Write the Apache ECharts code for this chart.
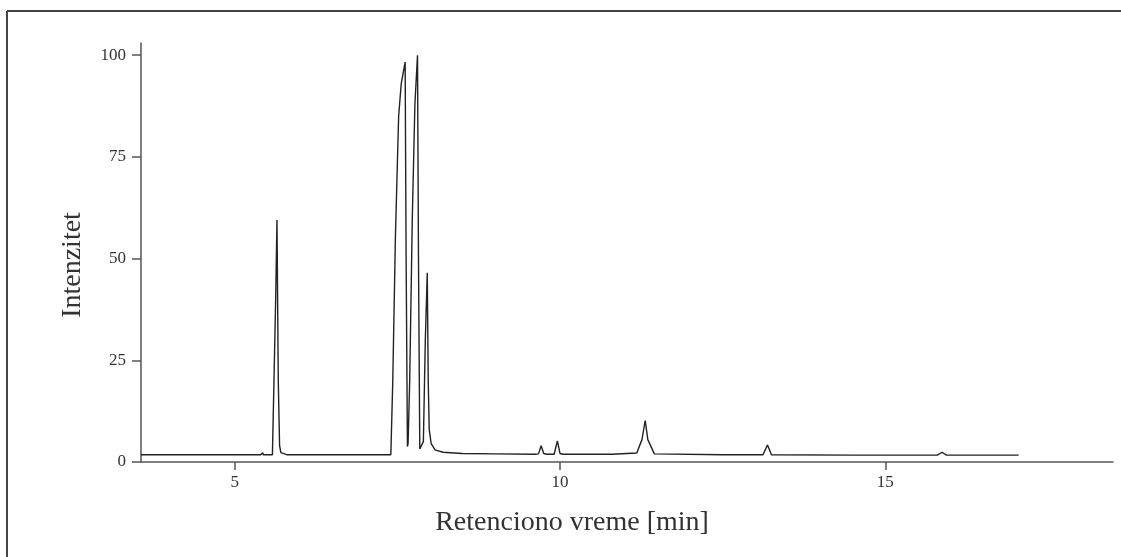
<!DOCTYPE html>
<html>
<head>
<meta charset="utf-8">
<script src="https://cdn.jsdelivr.net/npm/echarts@6/dist/echarts.min.js"></script>
<style>html,body{margin:0;padding:0;background:#fff;}#c{width:1121px;height:557px;}</style>
</head>
<body>
<div id="c"></div>
<script>
const xTicks = [5, 10, 15];
const yTicks = [0, 25, 50, 75, 100];
const xTitle = 'Retenciono vreme [min]';
const yTitle = 'Intenzitet';
const times = [3.56, 5.40, 5.43, 5.44, 5.46, 5.58, 5.60, 5.63, 5.65, 5.67, 5.69, 5.71, 5.74, 5.80, 6.5, 7.40, 7.41, 7.43, 7.47, 7.52, 7.56, 7.62, 7.635, 7.655, 7.665, 7.69, 7.73, 7.77, 7.81, 7.825, 7.845, 7.86, 7.90, 7.93, 7.96, 7.975, 7.99, 8.02, 8.08, 8.2, 8.5, 9.0, 9.62, 9.67, 9.71, 9.75, 9.80, 9.91, 9.96, 10.00, 10.05, 10.8, 11.18, 11.26, 11.31, 11.35, 11.45, 12.5, 13.12, 13.19, 13.25, 14.5, 15.80, 15.87, 15.94, 17.05];
const intensity = [1.8, 1.8, 2.3, 1.8, 1.8, 1.8, 2.2, 40, 59.5, 20, 4, 2.3, 2.0, 1.8, 1.8, 1.8, 2.0, 20, 55, 85, 93, 98.3, 50, 3.8, 4.5, 20, 60, 88, 100, 50, 3.2, 2.8, 5, 30, 46.5, 20, 8, 4.5, 3.0, 2.4, 2.1, 2.0, 1.9, 2.0, 4.0, 2.1, 1.9, 1.9, 5.2, 2.1, 1.9, 1.9, 2.2, 5.5, 10.2, 5.5, 2.0, 1.8, 1.8, 4.2, 1.8, 1.7, 1.7, 2.4, 1.7, 1.7];

const data = times.map((t, i) => [t, intensity[i]]);
const fontFam = '"Liberation Serif", "DejaVu Serif", serif';
const chart = echarts.init(document.getElementById('c'), null, {renderer: 'canvas'});
chart.setOption({
  animation: false,
  backgroundColor: '#fff',
  grid: {left: 141, right: 8, top: 43, bottom: 95, containLabel: false},
  xAxis: {
    type: 'value', min: 3.56, max: 18.5,
    axisLine: {show: true, lineStyle: {color: '#555', width: 1.5}},
    axisTick: {show: true, length: 8, customValues: xTicks, lineStyle: {color: '#555', width: 1.5}},
    axisLabel: {customValues: xTicks, fontFamily: fontFam, fontSize: 17, color: '#333', margin: 12},
    splitLine: {show: false}
  },
  yAxis: {
    type: 'value', min: 0, max: 103,
    axisLine: {show: true, lineStyle: {color: '#555', width: 1.5}},
    axisTick: {show: true, length: 9, customValues: yTicks, lineStyle: {color: '#555', width: 1.5}},
    axisLabel: {customValues: yTicks, fontFamily: fontFam, fontSize: 17, color: '#333', margin: 15},
    splitLine: {show: false}
  },
  series: [{
    type: 'line', data: data, showSymbol: false, smooth: false,
    lineStyle: {color: '#222', width: 1.4}
  }],
  graphic: [
    {type: 'line', shape: {x1: 7, y1: 11, x2: 1121, y2: 11}, style: {stroke: '#444', lineWidth: 2}},
    {type: 'line', shape: {x1: 7, y1: 11, x2: 7, y2: 557}, style: {stroke: '#444', lineWidth: 2}},
    {type: 'text', x: 572, y: 523, style: {text: xTitle, font: '28px "Liberation Serif", serif', fill: '#333', align: 'center', verticalAlign: 'middle'}},
    {type: 'text', x: 73, y: 265, rotation: Math.PI / 2, style: {text: yTitle, font: '28px "Liberation Serif", serif', fill: '#333', align: 'center', verticalAlign: 'middle'}}
  ]
});
</script>
</body>
</html>
